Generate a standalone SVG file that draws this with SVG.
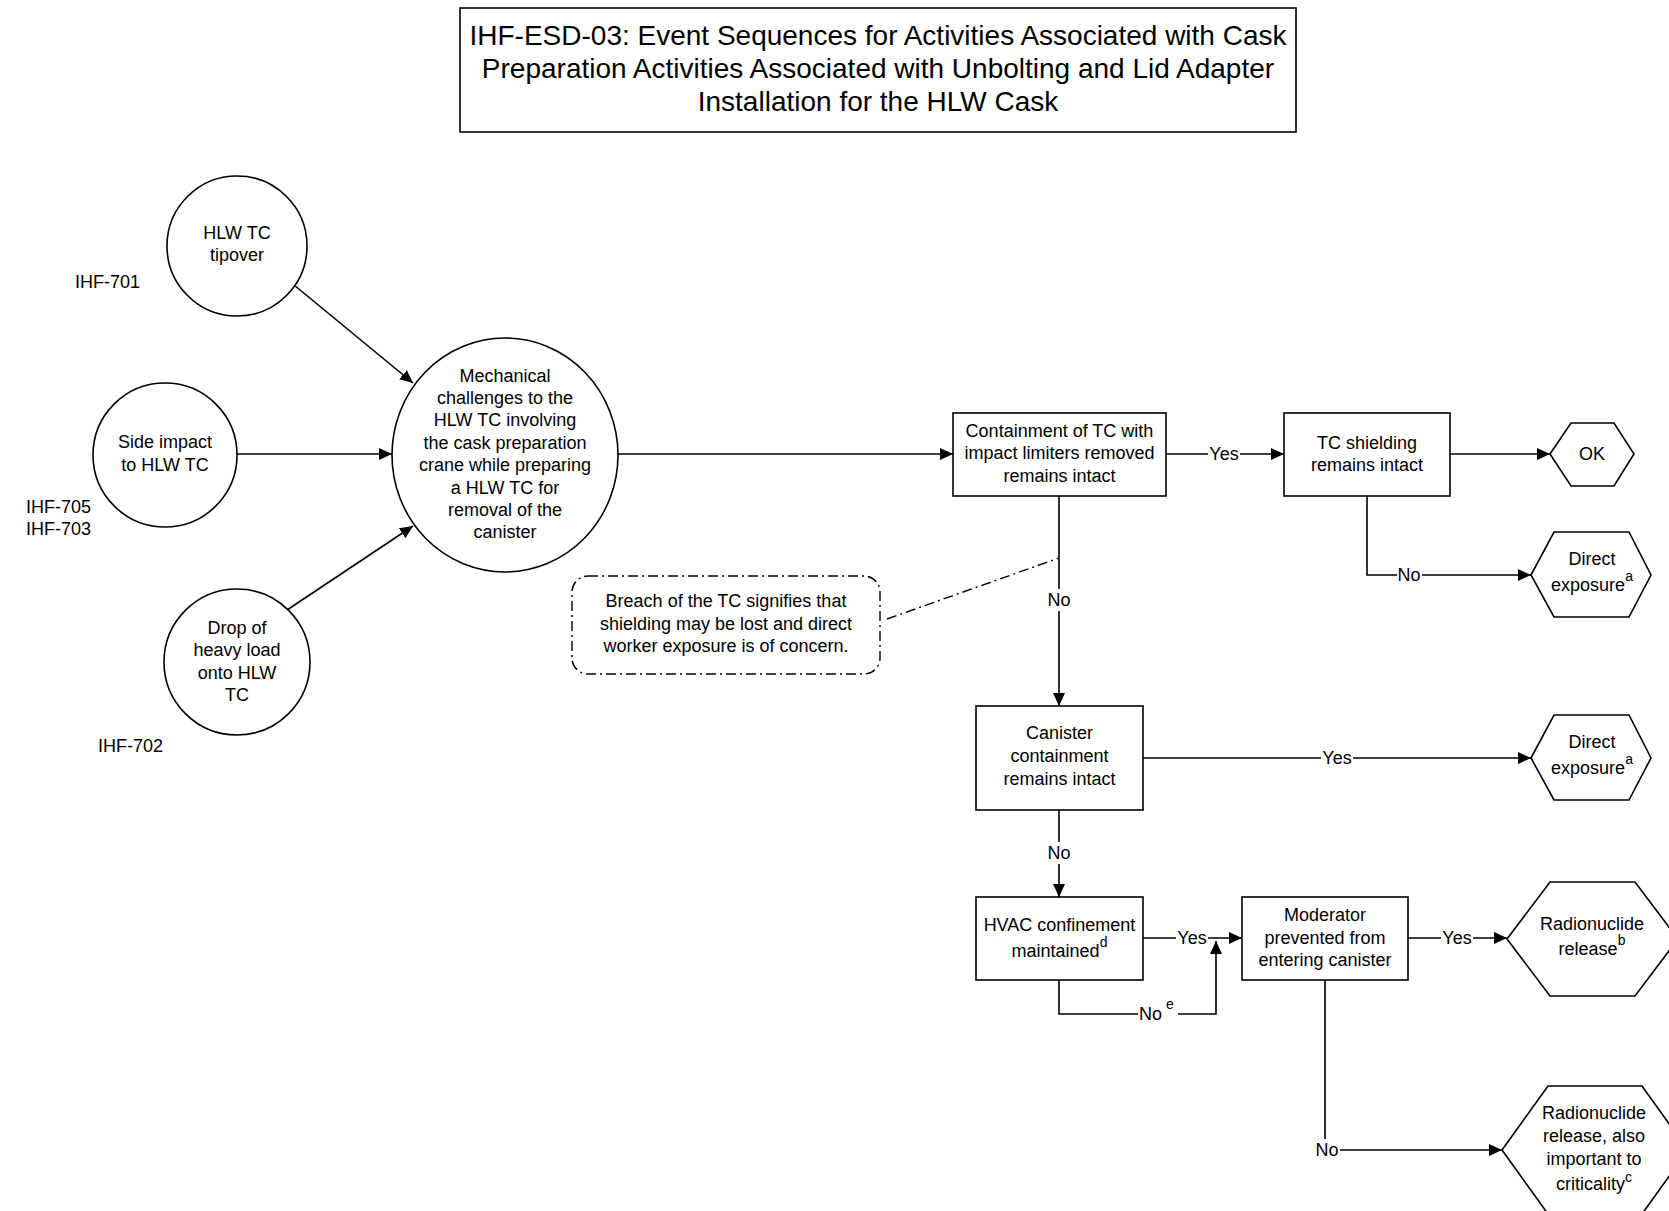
<svg xmlns="http://www.w3.org/2000/svg" width="1669" height="1211" viewBox="0 0 1669 1211">
<style>
text{font-family:"Liberation Sans",Arial,sans-serif;font-size:18px;fill:#000}
.c{text-anchor:middle}
.t{font-size:28px;text-anchor:middle}
.shape{fill:#fff;stroke:#000;stroke-width:1.6}
.ln{fill:none;stroke:#000;stroke-width:1.6}
.dd{fill:none;stroke:#000;stroke-width:1.4;stroke-dasharray:10 4 2 4}
.bg{fill:#fff}
.sup{font-size:14px}
</style>
<defs>
<marker id="ah" markerUnits="userSpaceOnUse" markerWidth="14" markerHeight="12" refX="13" refY="6" orient="auto">
<path d="M0,0 L13,6 L0,12 z" fill="#000"/>
</marker>
</defs>
<rect width="1669" height="1211" fill="#fff"/>

<g id="title">
<rect class="shape" x="460" y="8" width="836" height="124"/>
<text class="t" x="878" y="45">IHF-ESD-03: Event Sequences for Activities Associated with Cask</text>
<text class="t" x="878" y="78">Preparation Activities Associated with Unbolting and Lid Adapter</text>
<text class="t" x="878" y="111">Installation for the HLW Cask</text>
</g>

<g id="connectors">
<line class="ln" x1="294" y1="285" x2="413" y2="383" marker-end="url(#ah)"/>
<line class="ln" x1="237" y1="454" x2="392" y2="454" marker-end="url(#ah)"/>
<line class="ln" x1="287" y1="610" x2="413" y2="526" marker-end="url(#ah)"/>
<line class="ln" x1="618" y1="454" x2="953" y2="454" marker-end="url(#ah)"/>
<line class="ln" x1="1166" y1="454" x2="1284" y2="454" marker-end="url(#ah)"/>
<rect class="bg" x="1208" y="444" width="32" height="20"/>
<text class="c" x="1224" y="460">Yes</text>
<line class="ln" x1="1450" y1="454" x2="1550" y2="454" marker-end="url(#ah)"/>
<polyline class="ln" points="1367,496 1367,575 1531,575" marker-end="url(#ah)"/>
<rect class="bg" x="1397" y="565" width="25" height="20"/>
<text class="c" x="1409" y="581">No</text>
<line class="ln" x1="1059" y1="496" x2="1059" y2="706" marker-end="url(#ah)"/>
<rect class="bg" x="1046" y="589" width="26" height="22"/>
<text class="c" x="1059" y="606">No</text>
<line class="dd" x1="887" y1="619" x2="1059" y2="558"/>
<line class="ln" x1="1143" y1="758" x2="1531" y2="758" marker-end="url(#ah)"/>
<rect class="bg" x="1321" y="748" width="32" height="20"/>
<text class="c" x="1337" y="764">Yes</text>
<line class="ln" x1="1059" y1="810" x2="1059" y2="897" marker-end="url(#ah)"/>
<rect class="bg" x="1046" y="842" width="26" height="22"/>
<text class="c" x="1059" y="859">No</text>
<line class="ln" x1="1143" y1="938" x2="1242" y2="938" marker-end="url(#ah)"/>
<rect class="bg" x="1176" y="928" width="32" height="20"/>
<text class="c" x="1192" y="944">Yes</text>
<polyline class="ln" points="1059,980 1059,1014 1216,1014 1216,941" marker-end="url(#ah)"/>
<rect class="bg" x="1138" y="1004" width="40" height="20"/>
<text x="1139" y="1020">No</text>
<text class="sup" x="1166" y="1009">e</text>
<line class="ln" x1="1408" y1="938" x2="1507" y2="938" marker-end="url(#ah)"/>
<rect class="bg" x="1441" y="928" width="32" height="20"/>
<text class="c" x="1457" y="944">Yes</text>
<polyline class="ln" points="1325,980 1325,1150 1502,1150" marker-end="url(#ah)"/>
<rect class="bg" x="1314" y="1139" width="26" height="22"/>
<text class="c" x="1327" y="1156">No</text>
</g>

<g id="n-tipover">
<circle class="shape" cx="237" cy="246" r="70"/>
<text class="c" x="237" y="239">HLW TC</text>
<text class="c" x="237" y="261">tipover</text>
</g>
<g id="n-ihf701"><text x="75" y="288">IHF-701</text></g>

<g id="n-side">
<ellipse class="shape" cx="165" cy="455" rx="72" ry="72"/>
<text class="c" x="165" y="448">Side impact</text>
<text class="c" x="165" y="471">to HLW TC</text>
</g>
<g id="n-ihf705"><text x="26" y="513">IHF-705</text><text x="26" y="535">IHF-703</text></g>

<g id="n-drop">
<ellipse class="shape" cx="237" cy="662" rx="73" ry="73"/>
<text class="c" x="237" y="634">Drop of</text>
<text class="c" x="237" y="656">heavy load</text>
<text class="c" x="237" y="679">onto HLW</text>
<text class="c" x="237" y="701">TC</text>
</g>
<g id="n-ihf702"><text x="98" y="752">IHF-702</text></g>

<g id="n-mech">
<ellipse class="shape" cx="505" cy="455" rx="113" ry="117"/>
<text class="c" x="505" y="382">Mechanical</text>
<text class="c" x="505" y="404">challenges to the</text>
<text class="c" x="505" y="426">HLW TC involving</text>
<text class="c" x="505" y="449">the cask preparation</text>
<text class="c" x="505" y="471">crane while preparing</text>
<text class="c" x="505" y="494">a HLW TC for</text>
<text class="c" x="505" y="516">removal of the</text>
<text class="c" x="505" y="538">canister</text>
</g>

<g id="n-note">
<rect x="572" y="576" width="308" height="98" rx="16" ry="16" class="dd" style="fill:#fff"/>
<text class="c" x="726" y="607">Breach of the TC signifies that</text>
<text class="c" x="726" y="630">shielding may be lost and direct</text>
<text class="c" x="726" y="652">worker exposure is of concern.</text>
</g>

<g id="n-containment">
<rect class="shape" x="953" y="413" width="213" height="83"/>
<text class="c" x="1059.5" y="437">Containment of TC with</text>
<text class="c" x="1059.5" y="459">impact limiters removed</text>
<text class="c" x="1059.5" y="482">remains intact</text>
</g>

<g id="n-shielding">
<rect class="shape" x="1284" y="413" width="166" height="83"/>
<text class="c" x="1367" y="449">TC shielding</text>
<text class="c" x="1367" y="471">remains intact</text>
</g>

<g id="n-ok">
<polygon class="shape" points="1550,454 1571,423 1614,423 1634,454 1614,486 1571,486"/>
<text class="c" x="1592" y="460">OK</text>
</g>

<g id="n-direct1">
<polygon class="shape" points="1531,575 1554,532 1629,532 1651,575 1629,617 1554,617"/>
<text class="c" x="1592" y="565">Direct</text>
<text class="c" x="1592" y="591">exposure<tspan class="sup" dy="-10">a</tspan></text>
</g>

<g id="n-canister">
<rect class="shape" x="976" y="706" width="167" height="104"/>
<text class="c" x="1059.5" y="739">Canister</text>
<text class="c" x="1059.5" y="762">containment</text>
<text class="c" x="1059.5" y="785">remains intact</text>
</g>

<g id="n-direct2">
<polygon class="shape" points="1531,758 1554,715 1629,715 1651,758 1629,800 1554,800"/>
<text class="c" x="1592" y="748">Direct</text>
<text class="c" x="1592" y="774">exposure<tspan class="sup" dy="-10">a</tspan></text>
</g>

<g id="n-hvac">
<rect class="shape" x="976" y="897" width="167" height="83"/>
<text class="c" x="1059.5" y="931">HVAC confinement</text>
<text class="c" x="1059.5" y="957">maintained<tspan class="sup" dy="-10">d</tspan></text>
</g>

<g id="n-moderator">
<rect class="shape" x="1242" y="897" width="166" height="83"/>
<text class="c" x="1325" y="921">Moderator</text>
<text class="c" x="1325" y="944">prevented from</text>
<text class="c" x="1325" y="966">entering canister</text>
</g>

<g id="n-release">
<polygon class="shape" points="1507,939 1550,882 1635,882 1678,939 1635,996 1550,996"/>
<text class="c" x="1592" y="930">Radionuclide</text>
<text class="c" x="1592" y="955">release<tspan class="sup" dy="-10">b</tspan></text>
</g>

<g id="n-release-crit">
<polygon class="shape" points="1502,1150 1548,1086 1642,1086 1688,1150 1642,1214 1548,1214"/>
<text class="c" x="1594" y="1119">Radionuclide</text>
<text class="c" x="1594" y="1142">release, also</text>
<text class="c" x="1594" y="1165">important to</text>
<text class="c" x="1594" y="1190">criticality<tspan class="sup" font-size="13" dy="-8">c</tspan></text>
</g>
</svg>
